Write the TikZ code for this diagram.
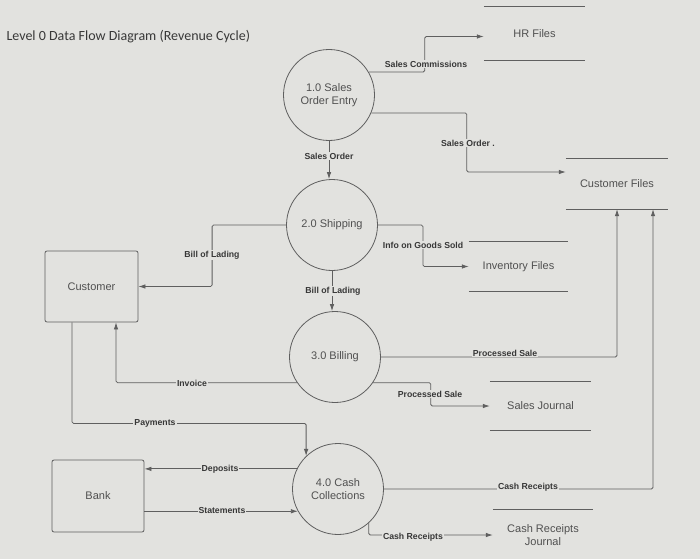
\documentclass[tikz,border=0pt]{standalone}
\usepackage{fontspec}
\setmainfont{Liberation Sans}
\newfontfamily\titlefont{Carlito}
\usetikzlibrary{arrows.meta,calc}
\definecolor{bg}{RGB}{226,226,223}
\definecolor{ln}{RGB}{95,95,95}
\definecolor{tx}{RGB}{80,80,80}
\definecolor{lbltx}{RGB}{55,55,55}
\begin{document}
\begin{tikzpicture}[x=1pt,y=-1pt,
  every node/.style={text=tx},
  proc/.style={circle,draw=ln,line width=0.8pt,minimum size=91pt,inner sep=0pt,align=center,font=\fontsize{11}{13}\selectfont},
  ent/.style={draw=ln,rounded corners=2pt,line width=0.8pt,font=\fontsize{11}{13}\selectfont},
  store/.style={inner sep=0pt,align=center,font=\fontsize{11}{13}\selectfont},
  flow/.style={draw=ln,line width=0.8pt,rounded corners=1.5pt,-{Latex[length=7pt,width=4.5pt]}},
  plain/.style={draw=ln,line width=0.8pt},
  lbl/.style={font=\fontsize{8.7}{10}\selectfont\bfseries,fill=bg,inner sep=1pt,text=lbltx}
]
\fill[bg] (0,0) rectangle (700,559);
\useasboundingbox (0,0) rectangle (700,559);

% title
\node[anchor=west,font=\titlefont\fontsize{14}{16}\selectfont,text=black!78] (title) at (3,37) {Level 0 Data Flow Diagram (Revenue Cycle)};

% processes
\node[proc] (p1) at (329,95) {1.0 Sales\\Order Entry};
\node[proc] (p2) at (332,225) {2.0 Shipping};
\node[proc] (p3) at (335,357) {3.0 Billing};
\node[proc] (p4) at (338,489) {4.0 Cash\\Collections};

% external entities
\node[ent,minimum width=93pt,minimum height=71pt] (cust) at (91.5,286.5) {Customer};
\node[ent,minimum width=92pt,minimum height=72pt] (bank) at (98,496) {Bank};

% data stores
\node[store,minimum width=101pt,minimum height=53pt] (hr) at (534.5,33.5) {HR Files};
\draw[plain] (hr.north west) -- (hr.north east) (hr.south west) -- (hr.south east);
\node[store,minimum width=102pt,minimum height=50pt] (cf) at (617,184) {Customer Files};
\draw[plain] (cf.north west) -- (cf.north east) (cf.south west) -- (cf.south east);
\node[store,minimum width=99pt,minimum height=49pt] (inv) at (518.5,266.5) {Inventory Files};
\draw[plain] (inv.north west) -- (inv.north east) (inv.south west) -- (inv.south east);
\node[store,minimum width=101pt,minimum height=48pt] (sj) at (540.5,406) {Sales Journal};
\draw[plain] (sj.north west) -- (sj.north east) (sj.south west) -- (sj.south east);
\node[store,minimum width=100pt,minimum height=50pt] (crj) at (543,535) {Cash Receipts\\Journal};
\draw[plain] (crj.north west) -- (crj.north east);

% flows
\draw[flow] (p1.30) -- ++(56,0) |- ([yshift=-3pt]hr.west);
\node[lbl] (l1) at (426,64) {Sales Commissions};

\draw[flow] (p1.-23) -| ([xshift=-99pt,yshift=12pt]cf.west) -- ([yshift=12pt]cf.west);
\node[lbl] (l2) at (468,143) {Sales Order .};

\draw[flow] (p1.south) -- (p1.south |- p2.north);
\node[lbl] (l3) at (329,156) {Sales Order};

\draw[flow] (p2.east) -- ++(45,0) |- (inv.west);
\node[lbl] (l4) at (423,245) {Info on Goods Sold};

\draw[flow] (p2.west) -- ++(-74,0) |- (cust.east);
\node[lbl] (l5) at (212,255) {Bill of Lading};

\draw[flow] (p2.south) -- (p2.south |- p3.north);
\node[lbl] (l6) at (333,291) {Bill of Lading};

\draw[flow] (p3.east) -| (cf.south);
\node[lbl] (l7) at (505,353) {Processed Sale};

\draw[flow] (p3.-34) -| ([xshift=-59pt]sj.west) -- (sj.west);
\node[lbl] (l8) at (430,394) {Processed Sale};

\draw[flow] (p3.214) -| ([xshift=24.5pt]cust.south);
\node[lbl] (l9) at (192,383) {Invoice};

\draw[flow] ([xshift=-19.5pt]cust.south) -- ++(0,101) -| (p4.134);
\node[lbl] (l10) at (155,423) {Payments};

\draw[flow] (p4.154) -- (p4.154 -| bank.east);
\node[lbl] (l11) at (220,469) {Deposits};

\draw[flow] (bank.east |- p4.209) -- (p4.209);
\node[lbl] (l12) at (222,510) {Statements};

\draw[flow] (p4.east) -| ([xshift=36pt]cf.south);
\node[lbl] (l13) at (528,487) {Cash Receipts};

\draw[flow] (p4.-48) |- (crj.west);
\node[lbl] (l14) at (413,537) {Cash Receipts};
\end{tikzpicture}
\end{document}
